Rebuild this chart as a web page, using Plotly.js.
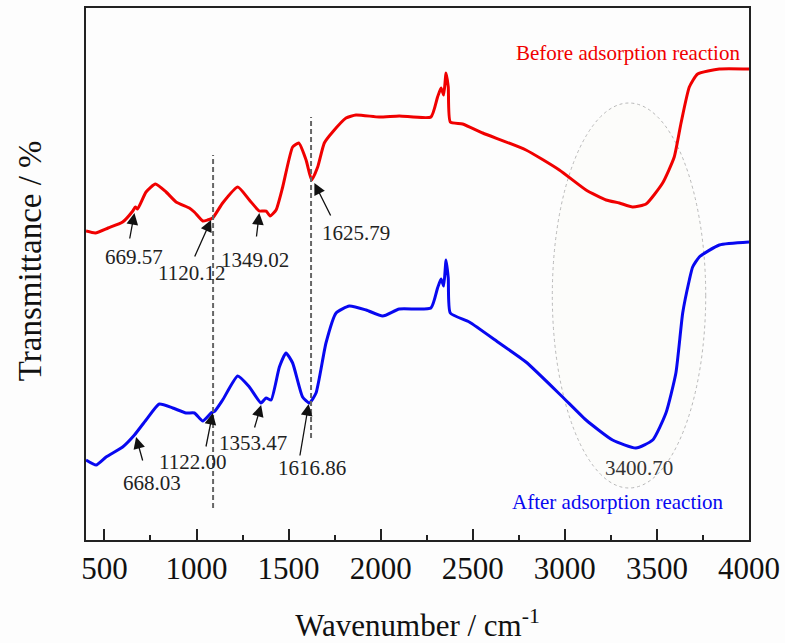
<!DOCTYPE html>
<html>
<head>
<meta charset="utf-8">
<script src="https://cdn.plot.ly/plotly-3.0.1.min.js"></script>
<style>html,body{margin:0;padding:0;background:#fdfdfd;}#chart{width:785px;height:643px;}</style>
</head>
<body>
<div id="chart"></div>
<script>
// Wavenumber (cm^-1) and relative transmittance (arbitrary units)
const beforeWavenumber = [400,451,520,599,654,668,680,726,777,835,889,961,988,1034,1060,1088,1142,1224,1287,1341,1360,1378,1400,1432,1468,1522,1555,1595,1625,1658,1694,1739,1812,1866,1992,2101,2273,2309,2328,2342,2355,2367,2378,2445,2554,2789,2970,3115,3224,3296,3368,3441,3531,3594,3631,3676,3721,3839,4000];
const beforeTransmittance = [309,307,312,318,329,333,331,348,356,348,338,332,328,319,320,322,337,353,340,329,329,329,324,330,353,393,397,380,360,373,397,408,422,425,423,424,423,443,452,445,467,453,418,416,407,390,370,350,340,337,333,336,357,383,417,453,466,471,471];

const afterWavenumber = [400,455,509,599,663,726,798,871,943,989,1034,1079,1100,1142,1224,1287,1350,1378,1405,1450,1486,1522,1576,1613,1649,1703,1758,1830,1921,2011,2101,2273,2309,2328,2342,2355,2367,2378,2481,2644,2789,2988,3115,3259,3386,3477,3549,3603,3640,3676,3694,3730,3839,4000];
const afterTransmittance = [80,75,83,93,105,120,136,132,127,127,119,127,129,140,164,153,137,142,140,173,187,177,143,137,147,197,227,234,230,224,231,232,252,261,254,280,262,227,218,197,178,143,120,100,92,100,127,167,227,260,273,283,295,298];

const xTickValues = [500,1000,1500,2000,2500,3000,3500,4000];
const xTickLabels = ["500","1000","1500","2000","2500","3000","3500","4000"];

// Peak labels: [label, wavenumber of arrow tip, value at tip, tail dx, tail dy, text wavenumber, text value]
const peakLabels = [
  ["669.57", 663, 327, -5, 27, 663, 283],
  ["1120.12", 1079, 320, -17, 38, 972, 267],
  ["1349.02", 1341, 327, -3, 25, 1317, 280],
  ["1625.79", 1640, 357, 17, 34, 1867, 307],
  ["668.03", 672, 103, 7, 25, 758, 57],
  ["1122.00", 1088, 127, -7, 35, 980, 78],
  ["1353.47", 1351, 135, -7, 24, 1306, 97],
  ["1616.86", 1609, 136, -9, 53, 1629, 72]
];

const serif = "Liberation Serif, Times New Roman, serif";

const traces = [
  {x: beforeWavenumber, y: beforeTransmittance, type: "scatter", mode: "lines",
   line: {color: "#f00000", width: 3, shape: "spline", smoothing: 0.5}, name: "Before adsorption reaction"},
  {x: afterWavenumber, y: afterTransmittance, type: "scatter", mode: "lines",
   line: {color: "#0808f0", width: 3, shape: "spline", smoothing: 0.5}, name: "After adsorption reaction"}
];

const annotations = [];
peakLabels.forEach(p => {
  annotations.push({x: p[1], y: p[2], xref: "x", yref: "y", text: "", showarrow: true,
    ax: p[3], ay: p[4], arrowhead: 2, arrowsize: 1.8, arrowwidth: 1.3, arrowcolor: "#111"});
  annotations.push({x: p[5], y: p[6], xref: "x", yref: "y", text: p[0], showarrow: false,
    font: {family: serif, size: 21, color: "#222"}});
});
annotations.push({x: 3405, y: 72, xref: "x", yref: "y", text: "3400.70", showarrow: false,
  font: {family: serif, size: 21, color: "#333"}});
annotations.push({x: 3345, y: 487, xref: "x", yref: "y", text: "Before adsorption reaction", showarrow: false,
  font: {family: serif, size: 21, color: "#f00000"}});
annotations.push({x: 3291, y: 38, xref: "x", yref: "y", text: "After adsorption reaction", showarrow: false,
  font: {family: serif, size: 21, color: "#0808f0"}});
// y-axis title
annotations.push({x: -0.0845, y: 0.526, xref: "paper", yref: "paper", xanchor: "center", yanchor: "middle",
  text: "Transmittance / %", showarrow: false, textangle: -90, font: {family: serif, size: 33, color: "#111"}});

const shapes = [
  {type: "circle", xref: "x", yref: "y", x0: 2932, x1: 3765, y0: 52, y1: 437, layer: "below",
   line: {color: "#b8b8b8", width: 1, dash: "dot"}, fillcolor: "rgba(245,245,215,0.08)"},
  {type: "line", xref: "x", yref: "y", x0: 1090, x1: 1090, y0: 32, y1: 385,
   line: {color: "#666", width: 2, dash: "5px,3px"}},
  {type: "line", xref: "x", yref: "y", x0: 1622, x1: 1622, y0: 102, y1: 423,
   line: {color: "#666", width: 2, dash: "5px,3px"}}
];

const layout = {
  width: 785, height: 643,
  margin: {l: 86, r: 36, t: 8, b: 103},
  paper_bgcolor: "#fdfdfd", plot_bgcolor: "#fdfdfd",
  showlegend: false,
  xaxis: {
    range: [400, 4000], tickmode: "array", tickvals: xTickValues, ticktext: xTickLabels,
    ticks: "inside", ticklen: 11, tickwidth: 2, tickcolor: "#222",
    minor: {ticks: "inside", ticklen: 5, tickwidth: 2, tickcolor: "#222", tickvals: [750,1250,1750,2250,2750,3250,3750]},
    showgrid: false, zeroline: false, showline: true, mirror: true, linewidth: 2, linecolor: "#222",
    tickfont: {family: serif, size: 31, color: "#111"},
    title: {text: "Wavenumber / cm<sup>-1</sup>", font: {family: serif, size: 31, color: "#111"}, standoff: 29},
    automargin: false
  },
  yaxis: {
    range: [0, 532], showticklabels: false, ticks: "", showgrid: false, zeroline: false,
    showline: true, mirror: true, linewidth: 2, linecolor: "#222",
    automargin: false
  },
  annotations: annotations,
  shapes: shapes
};

Plotly.newPlot("chart", traces, layout, {displayModeBar: false, staticPlot: true});
</script>
</body>
</html>
